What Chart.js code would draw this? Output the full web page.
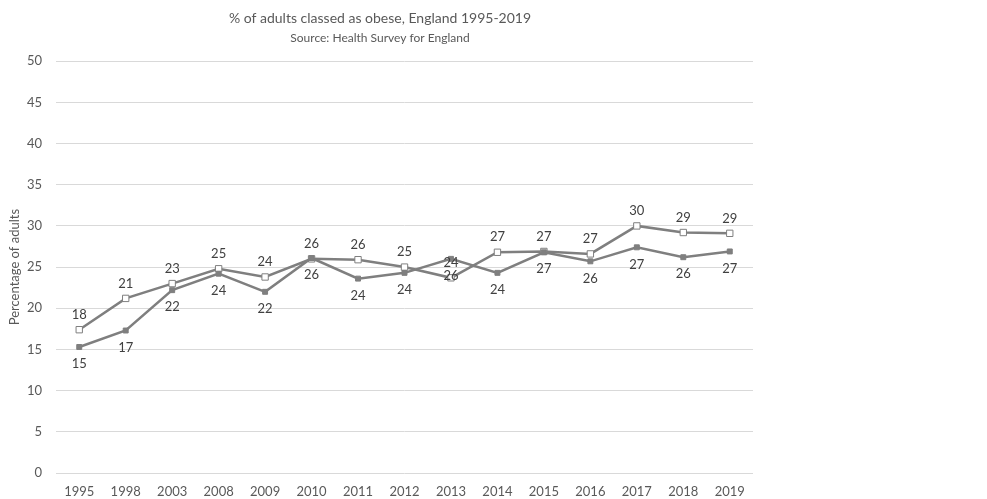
<!DOCTYPE html>
<html>
<head>
<meta charset="utf-8">
<script src="https://cdn.jsdelivr.net/npm/chart.js@4/dist/chart.umd.min.js"></script>
<style>
  html, body { margin: 0; padding: 0; background: #fff; }
  #wrap { position: absolute; left: 0; top: 0; width: 760px; height: 499px; }
</style>
</head>
<body>
<div id="wrap"><canvas id="chart"></canvas></div>
<script>
const years = ["1995", "1998", "2003", "2008", "2009", "2010", "2011", "2012", "2013", "2014", "2015", "2016", "2017", "2018", "2019"]
// open squares (labels above)
const seriesOpen = [17.4, 21.2, 23.0, 24.8, 23.8, 26.0, 25.9, 25.0, 23.7, 26.8, 26.9, 26.6, 30.0, 29.2, 29.1]
const labelsOpen = [18, 21, 23, 25, 24, 26, 26, 25, 24, 27, 27, 27, 30, 29, 29]
// filled squares (labels below)
const seriesFilled = [15.3, 17.3, 22.2, 24.2, 22.0, 26.1, 23.6, 24.3, 26.0, 24.3, 26.8, 25.7, 27.4, 26.2, 26.9]
const labelsFilled = [15, 17, 22, 24, 22, 26, 24, 24, 26, 24, 27, 26, 27, 26, 27]
const yTicks = [0, 5, 10, 15, 20, 25, 30, 35, 40, 45, 50]

const lineColor = "#7f7f7f"
const textColor = "#595959"
const fontFamily = "Lato, 'Open Sans', sans-serif"

// draws the value labels next to each point
const pointLabels = {
  id: "pointLabels",
  afterDatasetsDraw(chart) {
    const ctx = chart.ctx
    ctx.save()
    ctx.font = "13px " + fontFamily
    ctx.fillStyle = "#404040"
    ctx.textAlign = "center"
    ctx.textBaseline = "middle"
    chart.data.datasets.forEach((ds, i) => {
      const meta = chart.getDatasetMeta(i)
      meta.data.forEach((pt, j) => {
        const dy = ds.labelPos === "above" ? -15 : 17
        ctx.fillText(String(ds.pointText[j]), pt.x, pt.y + dy)
      })
    })
    ctx.restore()
  }
}

new Chart(document.getElementById("chart"), {
  type: "line",
  data: {
    labels: years,
    datasets: [
      {
        label: "Filled",
        data: seriesFilled,
        pointText: labelsFilled,
        labelPos: "below",
        borderColor: lineColor,
        borderWidth: 2.5,
        pointStyle: "rect",
        pointRadius: 3.5,
        pointBackgroundColor: lineColor,
        pointBorderColor: lineColor,
        pointBorderWidth: 1,
        tension: 0
      },
      {
        label: "Open",
        data: seriesOpen,
        pointText: labelsOpen,
        labelPos: "above",
        borderColor: lineColor,
        borderWidth: 2.5,
        pointStyle: "rect",
        pointRadius: 4.5,
        pointBackgroundColor: "#ffffff",
        pointBorderColor: lineColor,
        pointBorderWidth: 1,
        tension: 0
      }
    ]
  },
  options: {
    responsive: true,
    maintainAspectRatio: false,
    animation: false,
    layout: { padding: { left: 7, right: 7, top: 0, bottom: 0 } },
    plugins: {
      legend: { display: false },
      tooltip: { enabled: false },
      title: {
        display: true,
        text: "% of adults classed as obese, England 1995-2019",
        color: textColor,
        font: { family: fontFamily, size: 14, weight: "normal" },
        padding: { top: 10, bottom: 3 }
      },
      subtitle: {
        display: true,
        text: "Source: Health Survey for England",
        color: textColor,
        font: { family: fontFamily, size: 12, weight: "normal" },
        padding: { top: 1, bottom: 16 }
      }
    },
    scales: {
      x: {
        offset: true,
        afterFit: axis => { axis.height = 26 },
        grid: { display: false, drawTicks: false },
        border: { display: false },
        ticks: { color: textColor, font: { family: fontFamily, size: 13 }, padding: 11, maxRotation: 0 }
      },
      y: {
        min: 0,
        max: 50,
        afterBuildTicks: axis => { axis.ticks = yTicks.map(v => ({ value: v })) },
        afterFit: axis => { axis.width = 49 },
        grid: { color: "#d9d9d9", drawTicks: false },
        border: { display: false },
        ticks: { color: textColor, font: { family: fontFamily, size: 13 }, padding: 14 },
        title: {
          display: true,
          text: "Percentage of adults",
          color: textColor,
          font: { family: fontFamily, size: 13 },
          padding: { top: 0, bottom: 0 }
        }
      }
    }
  },
  plugins: [pointLabels]
})
</script>
</body>
</html>
